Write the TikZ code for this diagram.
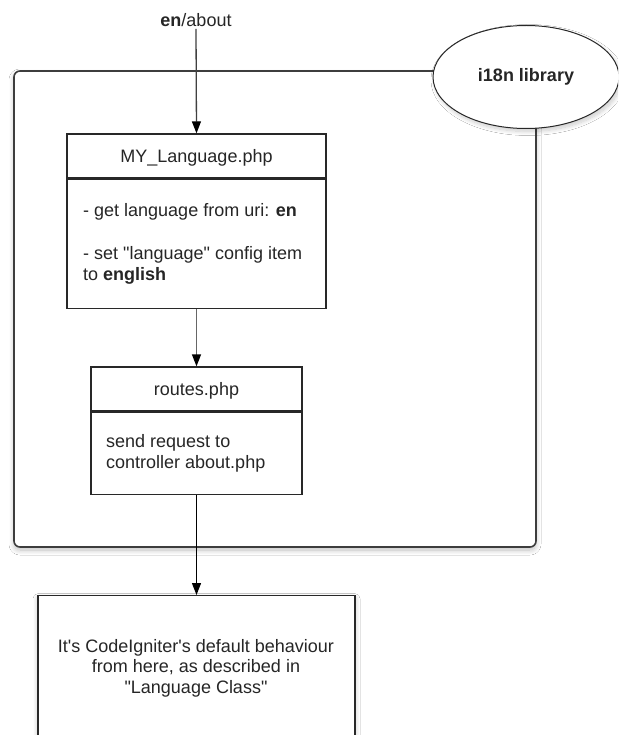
\documentclass[tikz,border=0pt]{standalone}
\usepackage{fontspec}
\setmainfont{Liberation Sans}[Ligatures=TeXOff]
\usetikzlibrary{arrows.meta,shapes.geometric,shadows.blur}
\definecolor{txt}{RGB}{38,38,38}
\definecolor{edge}{RGB}{40,40,40}
\begin{document}
\begin{tikzpicture}[x=1pt,y=-1pt,
  font=\fontsize{18}{20.5}\selectfont, text=txt,
  lbl/.style={inner sep=0pt, anchor=base},
  lblw/.style={inner sep=0pt, anchor=base west},
  boxframe/.style={draw=edge, line width=1.3pt, fill=white, inner sep=0pt},
  conn/.style={line width=1.3pt, -{Triangle[width=9pt,length=12pt,color=black]}},
  shad/.style={blur shadow={shadow xshift=0pt, shadow yshift=-3pt, shadow blur radius=5pt, shadow blur steps=12, shadow opacity=25}}
]
\clip (0,0) rectangle (618,735);
\fill[white] (0,0) rectangle (618,735);

% container
\node[draw=edge!90, line width=1.6pt, rounded corners=6pt, fill=white, shad,
      minimum width=522pt, minimum height=476pt, inner sep=0pt] (lib) at (275,309) {};

% i18n ellipse
\node[ellipse, draw=edge, line width=1pt, fill=white,
      blur shadow={shadow xshift=2pt, shadow yshift=-3pt, shadow blur radius=4pt, shadow blur steps=12, shadow opacity=20},
      minimum width=186pt, minimum height=103pt, inner sep=0pt,
      font=\fontsize{18}{20.5}\selectfont\bfseries] (i18n) at (526,77) {i18n library};

% MY_Language.php
\node[boxframe, minimum width=259pt, minimum height=44pt] (myt) at (196.5,156) {};
\node[boxframe, minimum width=259pt, minimum height=129pt, anchor=north] (myb) at (myt.south) {};
\node[lbl] (mytl) at (196.5,162.5) {MY\_Language.php};
\node[lblw] (myl1) at (83,217) {- get language from uri: \textbf{en}};
\node[lblw] (myl2) at (83,259.5) {- set "language" config item};
\node[lblw] (myl3) at (83,280) {to \textbf{english}};

% routes.php
\node[boxframe, minimum width=211pt, minimum height=44pt] (rt) at (196.5,389) {};
\node[boxframe, minimum width=211pt, minimum height=82pt, anchor=north] (rb) at (rt.south) {};
\node[lbl] (rtl) at (196.5,395.5) {routes.php};
\node[lblw] (rl1) at (106,447) {send request to};
\node[lblw] (rl2) at (106,468) {controller about.php};

% bottom box
\node[boxframe, shad, minimum width=317pt, minimum height=170pt, anchor=north] (bot) at (196.5,595) {};
\node[lbl] (b1) at (196,652) {It's CodeIgniter's default behaviour};
\node[lbl] (b2) at (196,672.5) {from here, as described in};
\node[lbl] (b3) at (196,693) {"Language Class"};

% top label
\node[lbl] (url) at (196,26.5) {\textbf{en}/about};

% connectors
\draw[conn, draw=black!75] ([yshift=-2pt]url.south) -- (myt.north);
\draw[conn, draw=black!60] (myb.south) -- (rt.north);
\draw[conn, draw=black] (rb.south) -- (bot.north);
\end{tikzpicture}
\end{document}
